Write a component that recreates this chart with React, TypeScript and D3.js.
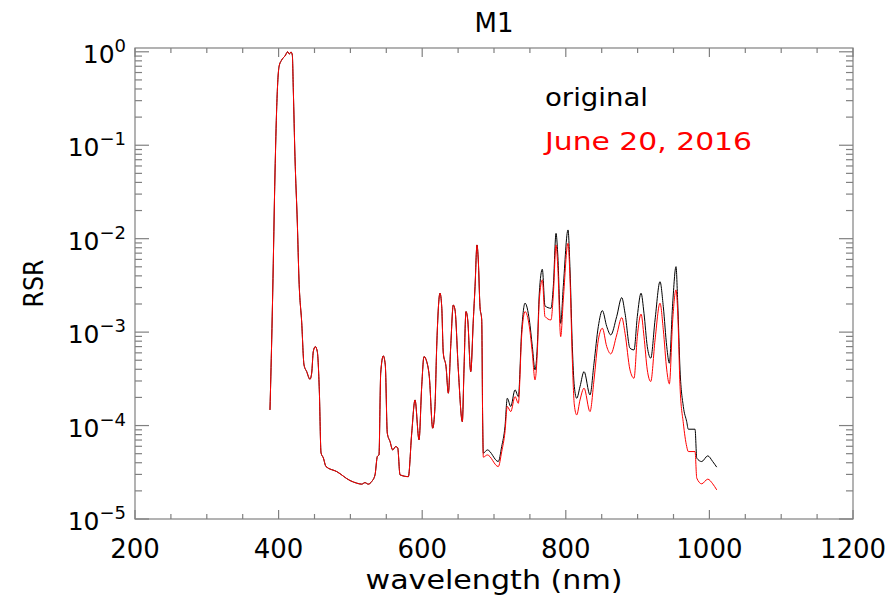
import React from "react";
import * as d3 from "d3";

const wavelength = [388.0, 390.4, 391.8, 395.0, 397.4, 400.6, 404.3, 408.9, 412.7, 414.9, 417.3, 419.1, 420.5, 422.8, 426.1, 428.4, 432.2, 435.4, 439.1, 443.7, 446.1, 448.3, 451.1, 453.9, 456.7, 459.1, 462.3, 466.0, 480.9, 499.5, 508.8, 515.7, 520.3, 524.9, 529.7, 534.3, 537.5, 539.8, 542.2, 545.8, 548.6, 551.4, 555.2, 558.9, 563.1, 565.9, 569.1, 580.7, 585.4, 590.0, 595.6, 599.3, 602.5, 606.3, 609.9, 614.6, 617.8, 620.2, 624.8, 627.2, 629.4, 633.2, 636.4, 639.7, 643.3, 645.7, 650.3, 655.9, 658.2, 661.0, 663.4, 667.6, 671.2, 673.6, 676.3, 678.1, 680.5, 682.9, 684.2, 685.1, 690.7, 706.0, 710.7, 715.3, 718.5, 723.3, 729.3, 733.9, 738.6, 743.2, 749.2, 753.4, 757.1, 760.3, 763.1, 767.3, 771.0, 779.4, 782.6, 786.4, 788.7, 792.9, 796.5, 803.1, 805.9, 809.1, 811.9, 815.2, 819.8, 825.4, 833.7, 839.3, 845.3, 850.9, 857.0, 862.6, 870.9, 877.9, 882.5, 889.4, 895.0, 899.6, 904.8, 908.9, 913.5, 918.3, 924.3, 931.2, 935.8, 940.6, 944.2, 948.9, 953.5, 955.9, 959.1, 963.7, 968.4, 970.6, 980.0, 982.4, 989.3, 997.7, 1004.6, 1010.2];

const sharedVis = [
  1.47e-4, 8.26e-4, 2.63e-3, 0.0505, 0.259, 0.693, 0.817, 0.902, 1.0, 0.947,
  0.995, 0.924, 0.39, 0.0755, 0.0147, 3.62e-3, 1.26e-3, 4.46e-4, 3.78e-4, 3.13e-4,
  3.66e-4, 6.18e-4, 7.0e-4, 6.18e-4, 2.41e-4, 5.1e-5, 4.51e-5, 3.64e-5, 3.22e-5, 2.58e-5,
  2.42e-5, 2.36e-5, 2.45e-5, 2.36e-5, 2.52e-5, 2.97e-5, 4.66e-5, 4.85e-5, 3.63e-4, 5.56e-4,
  4.46e-4, 8.28e-5, 6.74e-5, 5.49e-5, 5.96e-5, 5.77e-5, 2.97e-5, 2.84e-5, 8.28e-5, 1.88e-4,
  7.03e-5, 2.61e-4, 5.47e-4, 4.83e-4, 3.34e-4, 9.37e-5, 1.6e-4, 7.0e-4, 2.61e-3, 1.87e-3,
  5.95e-4, 4.27e-4, 2.22e-4, 7.0e-4, 1.95e-3, 1.73e-3, 3.94e-4, 1.1e-4, 3.94e-4, 1.66e-3,
  1.35e-3, 3.78e-4, 1.35e-3, 3.07e-3, 8.57e-3, 5.93e-3, 1.87e-3, 1.35e-3, 1.15e-4,
];

const originalNir = [
  5.06e-5, 5.49e-5, 4.12e-5, 5.96e-5, 9.75e-5, 1.96e-4, 1.6e-4, 2.41e-4, 2.04e-4, 1.06e-3, 2.04e-3,
  1.35e-3, 7.0e-4, 3.94e-4, 7.0e-4, 2.61e-3, 4.71e-3, 1.91e-3, 1.8e-3, 3.07e-3, 1.14e-2,
  7.03e-3, 1.24e-3, 3.07e-3, 1.24e-2, 4.63e-3, 7.0e-4, 2.61e-4, 1.96e-4, 2.61e-4, 3.78e-4,
  2.13e-4, 4.65e-4, 1.15e-3, 1.7e-3, 1.15e-3, 9.33e-4, 1.47e-3, 2.34e-3, 1.59e-3, 6.73e-4,
  6.45e-4, 1.47e-3, 2.61e-3, 1.59e-3, 7.0e-4, 5.26e-4, 1.35e-3, 3.47e-3, 1.87e-3, 7.0e-4,
  4.65e-4, 2.04e-3, 5.02e-3, 2.04e-3, 3.94e-4, 1.6e-4, 1.1e-4, 9.14e-5, 9.14e-5, 4.48e-5,
  4.12e-5, 4.74e-5, 4.12e-5, 3.59e-5,
];

const june2016Nir = [
  4.59e-5, 4.85e-5, 3.64e-5, 5.23e-5, 8.55e-5, 1.6e-4, 1.41e-4, 2.04e-4, 1.73e-4, 9.33e-4, 1.66e-3,
  1.15e-3, 5.95e-4, 3.08e-4, 6.0e-4, 2.21e-3, 3.62e-3, 1.47e-3, 1.35e-3, 2.5e-3, 8.57e-3,
  5.24e-3, 8.95e-4, 2.21e-3, 8.93e-3, 3.62e-3, 5.04e-4, 1.66e-4, 1.3e-4, 1.88e-4, 2.51e-4,
  1.41e-4, 3.08e-4, 8.26e-4, 1.1e-3, 7.0e-4, 5.85e-4, 9.33e-4, 1.43e-3, 9.73e-4, 3.94e-4,
  3.21e-4, 8.95e-4, 1.56e-3, 8.95e-4, 3.94e-4, 2.96e-4, 8.26e-4, 2.04e-3, 1.06e-3, 3.94e-4,
  2.79e-4, 1.35e-3, 2.83e-3, 1.6e-3, 2.61e-4, 1.06e-4, 5.96e-5, 5.27e-5, 5.27e-5, 2.74e-5,
  2.38e-5, 2.67e-5, 2.38e-5, 2.05e-5,
];

const original = [...sharedVis, ...originalNir];
const june2016 = [...sharedVis, ...june2016Nir];

const xTickLabels = [200, 400, 600, 800, 1000, 1200];
const yDecades = [-5, -4, -3, -2, -1, 0];
const legendLabels = ["original", "June 20, 2016"];
const title = "M1";
const xTitle = "wavelength (nm)";
const yTitle = "RSR";

const W = 891;
const H = 595;
const L = 135;
const R = 853;
const T = 48;
const B = 519;
const FONT = "DejaVu Sans, sans-serif";
const AXIS = "#808080";

export default function App() {
  const x = d3.scaleLinear().domain([200, 1200]).range([L, R]);
  const y = d3.scaleLog().domain([1e-5, 1.098]).range([B, T]);

  const line = d3
    .line<number>()
    .x((_, i) => x(wavelength[i]))
    .y((d) => y(d))
    .curve(d3.curveMonotoneX);

  const xMinor = d3.range(200, 1201, 50);
  const yMinor: number[] = [];
  yDecades.slice(0, -1).forEach((e) => {
    for (let k = 2; k <= 9; k++) yMinor.push(k * Math.pow(10, e));
  });

  return (
    <svg
      width={W}
      height={H}
      style={{ position: "absolute", left: 0, top: 0, background: "#fff" }}
      fontFamily={FONT}
    >
      <rect x={0} y={0} width={W} height={H} fill="#fff" />
      {/* frame */}
      <rect x={L} y={T} width={R - L} height={B - T} fill="none" stroke={AXIS} strokeWidth={1.2} />
      {/* x ticks bottom & top */}
      {xMinor.map((v) => {
        const major = v % 200 === 0;
        const len = major ? 9 : 5;
        return (
          <g key={"xt" + v}>
            <line x1={x(v)} x2={x(v)} y1={B} y2={B - len} stroke={AXIS} strokeWidth={1.2} />
            <line x1={x(v)} x2={x(v)} y1={T} y2={T + len} stroke={AXIS} strokeWidth={1.2} />
          </g>
        );
      })}
      {/* y ticks */}
      {yDecades.map((e) => {
        const v = Math.pow(10, e);
        return (
          <g key={"ym" + e}>
            <line x1={L} x2={L + 14} y1={y(v)} y2={y(v)} stroke={AXIS} strokeWidth={1.2} />
            <line x1={R} x2={R - 14} y1={y(v)} y2={y(v)} stroke={AXIS} strokeWidth={1.2} />
          </g>
        );
      })}
      {yMinor.map((v, i) => (
        <g key={"yn" + i}>
          <line x1={L} x2={L + 7} y1={y(v)} y2={y(v)} stroke={AXIS} strokeWidth={1.2} />
          <line x1={R} x2={R - 7} y1={y(v)} y2={y(v)} stroke={AXIS} strokeWidth={1.2} />
        </g>
      ))}
      {/* x tick labels */}
      {xTickLabels.map((v) => (
        <text key={"xl" + v} x={x(v)} y={558} fontSize={26} textAnchor="middle" fill="#000">
          {v}
        </text>
      ))}
      {/* y tick labels */}
      {yDecades.map((e) => (
        <text key={"yl" + e} x={126} y={y(Math.pow(10, e)) + 11} textAnchor="end" fill="#000" fontSize={25}>
          <tspan>10</tspan>
          <tspan dy={-11} fontSize={18}>
            {e === 0 ? "0" : "\u2212" + Math.abs(e)}
          </tspan>
        </text>
      ))}
      {/* curves */}
      <path d={line(original) || ""} fill="none" stroke="#000" strokeWidth={1} />
      <path d={line(june2016) || ""} fill="none" stroke="#ff0000" strokeWidth={1} />
      {/* legend */}
      <text x={545} y={106} fontSize={24} fill="#000" textLength={103} lengthAdjust="spacingAndGlyphs">
        {legendLabels[0]}
      </text>
      <text x={545} y={150} fontSize={25} fill="#ff0000" textLength={207} lengthAdjust="spacingAndGlyphs">
        {legendLabels[1]}
      </text>
      {/* titles */}
      <text x={(L + R) / 2} y={32} fontSize={26} textAnchor="middle" fill="#000">
        {title}
      </text>
      <text x={(L + R) / 2} y={589} fontSize={26} textAnchor="middle" fill="#000" textLength={257} lengthAdjust="spacingAndGlyphs">
        {xTitle}
      </text>
      <text
        transform={`translate(43,${(T + B) / 2}) rotate(-90)`}
        fontSize={27}
        textAnchor="middle"
        fill="#000"
        textLength={48}
        lengthAdjust="spacingAndGlyphs"
      >
        {yTitle}
      </text>
    </svg>
  );
}
